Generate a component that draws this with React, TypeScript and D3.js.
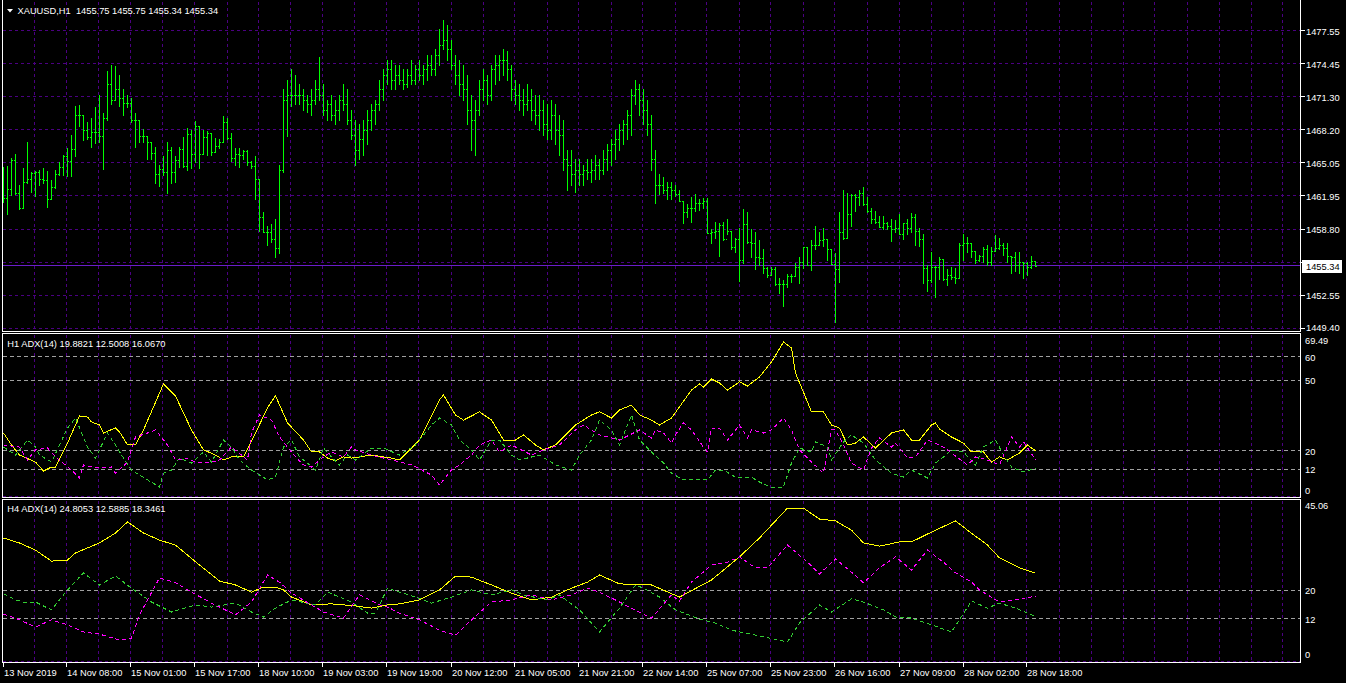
import React from "react";
import * as d3 from "d3";

// ---------- DATA ----------
const barOpen = [1463.0,1461.7,1462.6,1465.3,1462.2,1460.8,1463.3,1463.5,1464.1,1464.2,1463.5,1463.4,1461.6,1462.8,1464.0,1464.7,1465.7,1465.2,1466.4,1469.6,1469.6,1468.2,1467.5,1468.0,1468.0,1467.6,1469.3,1472.5,1471.0,1472.0,1471.2,1470.7,1470.7,1469.1,1469.1,1467.6,1467.6,1467.0,1466.0,1464.0,1464.5,1464.2,1466.3,1464.2,1465.3,1466.4,1464.8,1467.8,1465.9,1468.5,1465.9,1467.5,1467.9,1466.1,1466.7,1467.0,1468.9,1467.4,1465.5,1465.9,1465.8,1466.2,1465.1,1464.8,1463.5,1459.9,1458.5,1458.5,1457.9,1457.0,1464.4,1471.0,1471.5,1471.5,1471.5,1471.5,1471.0,1470.6,1471.0,1472.0,1471.5,1470.1,1470.6,1469.6,1470.1,1471.0,1470.6,1469.1,1467.7,1466.3,1467.3,1468.2,1469.1,1470.1,1470.6,1472.0,1473.4,1473.9,1472.9,1473.4,1472.9,1472.5,1473.4,1472.9,1473.9,1473.4,1473.9,1474.3,1473.9,1475.3,1476.2,1476.7,1475.8,1474.3,1473.4,1472.5,1472.0,1470.1,1469.1,1470.1,1472.0,1472.9,1471.5,1473.9,1474.3,1474.8,1474.8,1473.9,1472.0,1471.5,1471.0,1470.6,1471.0,1470.1,1469.6,1470.1,1468.7,1468.2,1469.6,1468.2,1467.7,1465.4,1464.9,1464.0,1464.4,1464.0,1464.4,1464.2,1464.4,1464.9,1464.4,1465.4,1466.3,1466.8,1467.3,1468.2,1468.7,1469.6,1471.5,1472.0,1471.0,1470.1,1468.7,1465.4,1463.0,1463.0,1462.5,1462.8,1462.5,1462.1,1461.5,1460.4,1460.8,1460.8,1461.3,1461.3,1461.5,1458.4,1458.5,1458.6,1459.2,1457.9,1458.6,1457.1,1457.9,1455.9,1459.3,1457.6,1457.5,1456.2,1456.1,1455.1,1454.5,1455.0,1453.6,1453.6,1453.6,1454.4,1454.4,1455.2,1455.7,1457.1,1455.4,1457.3,1457.3,1457.8,1457.9,1456.9,1455.5,1455.0,1458.5,1458.0,1460.2,1462.0,1461.8,1462.2,1461.2,1460.5,1459.8,1459.5,1459.0,1459.4,1459.1,1458.8,1458.9,1458.3,1459.4,1458.9,1459.9,1458.6,1457.9,1455.1,1454.0,1455.2,1455.2,1456.0,1454.1,1454.5,1454.3,1454.2,1457.3,1457.5,1457.5,1456.7,1455.9,1456.3,1456.9,1455.7,1456.7,1457.0,1457.3,1457.0,1456.3,1456.2,1455.4,1455.7,1455.6,1455.2,1455.75];
const barHigh = [1464.7,1464.8,1465.5,1465.9,1463.0,1464.6,1467.0,1464.2,1464.3,1464.4,1464.6,1464.3,1463.4,1464.4,1465.1,1465.8,1466.5,1467.7,1470.4,1470.5,1469.6,1468.9,1469.3,1470.3,1471.5,1469.8,1473.7,1474.3,1474.2,1473.4,1472.0,1471.5,1471.2,1469.8,1469.1,1468.3,1467.6,1467.0,1466.6,1464.9,1465.7,1467.0,1466.6,1465.7,1466.6,1467.5,1468.4,1468.2,1469.0,1468.5,1468.2,1468.1,1467.9,1467.4,1467.3,1469.5,1469.3,1467.9,1466.5,1466.5,1466.3,1466.3,1465.2,1465.7,1463.5,1460.4,1459.1,1459.3,1459.8,1464.9,1472.0,1472.9,1473.9,1473.4,1472.5,1472.0,1471.5,1472.0,1472.9,1475.1,1472.5,1471.0,1471.5,1471.0,1471.5,1472.5,1472.0,1470.1,1469.1,1468.7,1469.1,1470.1,1470.6,1471.0,1472.9,1473.9,1474.8,1474.8,1474.3,1474.3,1473.9,1473.9,1474.8,1474.3,1474.8,1474.3,1475.3,1475.3,1475.8,1477.7,1478.6,1478.1,1476.7,1475.3,1474.8,1474.3,1473.4,1471.5,1471.0,1472.9,1473.9,1473.4,1474.3,1475.3,1475.3,1475.8,1475.6,1474.3,1472.9,1472.5,1472.0,1472.5,1472.0,1471.5,1471.5,1471.0,1470.6,1471.0,1470.6,1469.6,1469.1,1466.3,1466.3,1465.4,1465.4,1464.9,1465.4,1465.4,1465.8,1465.4,1466.3,1466.8,1467.3,1468.2,1468.7,1469.1,1470.1,1472.0,1472.9,1472.5,1472.0,1471.0,1469.6,1466.3,1464.0,1463.7,1463.3,1463.3,1463.0,1462.5,1461.5,1461.2,1461.8,1462.1,1461.6,1461.7,1461.7,1458.8,1459.5,1459.4,1459.5,1459.8,1458.6,1458.0,1458.9,1460.7,1460.4,1458.8,1458.5,1457.8,1456.9,1455.2,1455.2,1455.2,1454.2,1454.0,1454.6,1454.6,1455.6,1456.2,1457.1,1457.1,1457.8,1459.1,1458.5,1458.9,1457.9,1456.9,1456.5,1460.4,1462.5,1462.2,1462.1,1462.1,1462.5,1462.8,1461.8,1460.8,1460.5,1460.0,1460.0,1459.5,1459.8,1459.7,1460.2,1459.4,1459.8,1460.3,1460.2,1458.9,1458.3,1455.4,1456.6,1455.3,1456.2,1456.0,1455.0,1455.2,1455.1,1457.5,1458.3,1458.1,1457.5,1456.7,1456.4,1457.1,1457.3,1457.1,1458.2,1458.0,1457.5,1457.5,1456.3,1456.6,1456.6,1455.7,1455.7,1456.3,1455.75];
const barLow = [1461.4,1460.2,1462.0,1462.1,1460.7,1460.8,1463.2,1462.3,1461.9,1463.0,1463.2,1460.9,1461.6,1462.7,1463.9,1463.9,1463.8,1463.8,1465.7,1468.5,1467.2,1467.3,1466.6,1466.9,1467.0,1464.5,1469.1,1470.6,1471.0,1470.4,1469.6,1470.3,1468.9,1466.6,1467.0,1467.0,1465.4,1465.4,1463.2,1462.9,1463.9,1462.2,1463.2,1463.3,1464.7,1464.7,1464.4,1464.6,1465.1,1464.6,1465.9,1465.8,1465.8,1466.1,1466.5,1467.0,1467.3,1465.2,1464.9,1464.7,1465.4,1464.9,1464.6,1461.6,1458.6,1458.5,1457.3,1457.6,1456.2,1456.5,1464.2,1467.6,1470.4,1470.6,1470.6,1470.1,1469.9,1469.6,1470.6,1471.0,1469.6,1469.1,1469.1,1468.7,1469.1,1470.1,1468.7,1467.3,1464.9,1465.4,1465.8,1466.8,1468.2,1468.7,1470.1,1471.0,1472.5,1472.0,1472.0,1472.5,1472.0,1472.2,1472.5,1472.5,1472.9,1472.5,1472.9,1473.4,1473.4,1474.3,1475.8,1474.8,1473.9,1472.5,1471.5,1471.0,1468.7,1466.3,1465.8,1469.6,1471.0,1470.6,1471.0,1472.5,1472.9,1473.4,1472.9,1471.0,1470.6,1470.1,1469.6,1470.1,1469.1,1468.7,1468.2,1467.7,1467.3,1467.3,1466.8,1465.8,1464.4,1462.5,1463.0,1462.3,1463.0,1463.0,1463.5,1463.3,1463.5,1463.5,1464.0,1464.4,1464.9,1465.4,1466.3,1466.8,1467.3,1467.7,1470.6,1469.6,1468.7,1467.7,1464.4,1461.3,1462.1,1462.2,1461.6,1461.6,1461.9,1461.5,1459.4,1459.9,1459.5,1460.5,1460.6,1460.8,1458.4,1457.5,1458.0,1456.3,1457.8,1458.3,1456.9,1456.6,1453.9,1455.6,1457.5,1456.2,1455.0,1455.4,1454.7,1454.3,1454.5,1453.5,1452.8,1451.5,1453.3,1453.8,1454.4,1453.7,1455.1,1455.4,1454.9,1456.9,1457.3,1457.2,1455.9,1455.5,1450.0,1453.8,1457.9,1458.0,1459.1,1460.5,1461.1,1461.1,1460.4,1459.4,1459.4,1459.0,1458.8,1458.8,1457.7,1458.5,1458.3,1457.9,1458.3,1458.5,1457.3,1457.2,1453.7,1453.0,1453.8,1452.4,1454.1,1454.0,1453.5,1454.1,1453.7,1454.2,1455.9,1456.6,1456.2,1455.6,1455.8,1455.7,1455.4,1455.4,1456.7,1456.9,1456.4,1455.7,1454.7,1454.8,1454.7,1454.2,1454.5,1455.1,1455.34];
const barClose = [1461.7,1462.6,1465.3,1462.2,1460.8,1463.3,1463.5,1464.1,1464.2,1463.5,1463.4,1461.6,1462.8,1464.0,1464.7,1465.7,1465.2,1466.4,1469.6,1469.6,1468.2,1467.5,1468.0,1468.0,1467.6,1469.3,1472.5,1471.0,1472.0,1471.2,1470.7,1470.7,1469.1,1469.1,1467.6,1467.6,1467.0,1466.0,1464.0,1464.5,1464.2,1466.3,1464.2,1465.3,1466.4,1464.8,1467.8,1465.9,1468.5,1465.9,1467.5,1467.9,1466.1,1466.7,1467.0,1468.9,1467.4,1465.5,1465.9,1465.8,1466.2,1465.1,1464.8,1463.5,1459.9,1458.5,1458.5,1457.9,1457.0,1464.4,1471.0,1471.5,1471.5,1471.5,1471.5,1471.0,1470.6,1471.0,1472.0,1471.5,1470.1,1470.6,1469.6,1470.1,1471.0,1470.6,1469.1,1467.7,1466.3,1467.3,1468.2,1469.1,1470.1,1470.6,1472.0,1473.4,1473.9,1472.9,1473.4,1472.9,1472.5,1473.4,1472.9,1473.9,1473.4,1473.9,1474.3,1473.9,1475.3,1476.2,1476.7,1475.8,1474.3,1473.4,1472.5,1472.0,1470.1,1469.1,1470.1,1472.0,1472.9,1471.5,1473.9,1474.3,1474.8,1474.8,1473.9,1472.0,1471.5,1471.0,1470.6,1471.0,1470.1,1469.6,1470.1,1468.7,1468.2,1469.6,1468.2,1467.7,1465.4,1464.9,1464.0,1464.4,1464.0,1464.4,1464.2,1464.4,1464.9,1464.4,1465.4,1466.3,1466.8,1467.3,1468.2,1468.7,1469.6,1471.5,1472.0,1471.0,1470.1,1468.7,1465.4,1463.0,1463.0,1462.5,1462.8,1462.5,1462.1,1461.5,1460.4,1460.8,1460.8,1461.3,1461.3,1461.5,1458.4,1458.5,1458.6,1459.2,1457.9,1458.6,1457.1,1457.9,1455.9,1459.3,1457.6,1457.5,1456.2,1456.1,1455.1,1454.5,1455.0,1453.6,1453.6,1453.6,1454.4,1454.4,1455.2,1455.7,1457.1,1455.4,1457.3,1457.3,1457.8,1457.9,1456.9,1455.5,1455.0,1458.5,1458.0,1460.2,1462.0,1461.8,1462.2,1461.2,1460.5,1459.8,1459.5,1459.0,1459.4,1459.1,1458.8,1458.9,1458.3,1459.4,1458.9,1459.9,1458.6,1457.9,1455.1,1454.0,1455.2,1455.2,1456.0,1454.1,1454.5,1454.3,1454.2,1457.3,1457.5,1457.5,1456.7,1455.9,1456.3,1456.9,1455.7,1456.7,1457.0,1457.3,1457.0,1456.3,1456.2,1455.4,1455.7,1455.6,1455.2,1455.8,1455.34];

const priceTicks = [1477.55, 1474.45, 1471.30, 1468.20, 1465.05, 1461.95, 1458.80, 1455.65, 1452.55, 1449.40];
const lastPrice = 1455.34;
const timeLabels = ["13 Nov 2019","14 Nov 08:00","15 Nov 01:00","15 Nov 17:00","18 Nov 10:00","19 Nov 03:00","19 Nov 19:00","20 Nov 12:00","21 Nov 05:00","21 Nov 21:00","22 Nov 14:00","25 Nov 07:00","25 Nov 23:00","26 Nov 16:00","27 Nov 09:00","28 Nov 02:00","28 Nov 18:00"];
const h1Levels = [60, 50, 20, 12];
const h4Levels = [20, 12];
const h1Max = 69.49;
const h4Max = 45.06;

// [bar index, value]
const h1Adx: [number, number][] = [[0,27.5],[2,22.4],[4,18.1],[8,15.1],[10,11.3],[12,13.0],[13,13.0],[16,23.2],[19,34.8],[21,34.3],[22,32.2],[24,30.9],[25,27.5],[28,29.7],[29,28.0],[31,22.4],[33,22.4],[35,28.8],[40,48.4],[43,43.3],[47,28.8],[50,20.3],[53,18.1],[55,16.0],[57,17.3],[60,17.3],[63,27.5],[66,38.2],[68,43.3],[71,31.8],[75,24.5],[77,19.4],[79,19.4],[81,16.8],[83,15.6],[85,17.3],[87,16.8],[92,18.1],[97,16.8],[99,16.0],[104,24.5],[109,41.6],[110,43.7],[113,35.2],[115,33.0],[119,36.5],[122,33.0],[125,24.5],[128,24.5],[130,26.7],[133,22.4],[135,20.3],[138,22.4],[143,30.9],[147,35.2],[149,36.5],[152,33.9],[154,37.3],[157,39.4],[159,35.2],[162,33.0],[164,30.9],[167,33.9],[172,45.8],[174,48.4],[175,47.1],[177,50.5],[179,48.8],[181,45.8],[184,49.3],[186,47.5],[189,51.4],[192,57.8],[195,66.3],[197,63.8],[198,53.1],[201,40.7],[202,36.5],[205,36.5],[207,30.9],[209,29.6],[211,22.4],[213,23.2],[215,25.8],[218,21.1],[222,27.5],[225,28.8],[227,24.5],[229,24.5],[232,30.9],[233,31.8],[234,29.2],[237,25.8],[240,23.2],[242,19.4],[245,19.4],[247,15.1],[249,17.3],[251,16.0],[254,19.0],[256,22.4],[258,19.9]];
const h1PlusDi: [number, number][] = [[0,21.5],[3,18.1],[6,24.5],[8,21.5],[9,18.1],[12,15.1],[16,29.6],[18,33.9],[21,21.5],[23,16.8],[26,27.5],[28,22.4],[30,16.8],[32,11.7],[36,7.5],[39,4.5],[40,10.4],[42,11.7],[44,16.8],[47,14.7],[50,19.4],[52,15.1],[55,24.5],[57,21.5],[59,16.0],[62,11.7],[66,7.5],[68,8.7],[70,21.5],[72,24.5],[74,17.3],[76,14.7],[78,11.7],[80,21.1],[82,17.3],[84,13.9],[86,18.1],[88,16.0],[92,21.1],[95,21.1],[99,18.1],[103,22.4],[107,30.9],[109,33.9],[112,30.9],[114,24.5],[117,20.3],[119,16.0],[122,24.5],[124,24.5],[127,18.1],[129,16.0],[134,18.1],[138,13.9],[142,11.7],[144,18.1],[147,24.5],[149,33.0],[152,28.8],[154,22.4],[157,35.2],[159,24.5],[162,19.4],[165,14.7],[167,10.4],[170,7.5],[173,7.5],[176,7.5],[178,11.7],[180,11.7],[183,8.7],[187,8.7],[189,6.6],[192,4.1],[195,4.5],[197,14.7],[199,21.1],[202,19.4],[203,23.7],[206,21.5],[207,16.0],[210,23.7],[212,26.7],[215,23.2],[218,16.0],[222,10.4],[225,8.7],[227,11.7],[231,8.3],[233,14.7],[235,17.3],[237,20.3],[240,19.4],[243,13.9],[245,21.5],[248,24.5],[250,18.1],[252,13.0],[255,10.9],[258,12.5]];
const h1MinusDi: [number, number][] = [[0,22.4],[4,21.5],[6,16.0],[8,20.3],[11,21.1],[13,17.3],[17,11.7],[19,8.3],[20,13.9],[23,12.6],[27,13.0],[28,10.4],[31,15.1],[33,25.8],[36,27.5],[38,28.8],[41,22.4],[43,16.0],[46,16.8],[48,15.1],[52,15.1],[54,16.0],[57,21.5],[61,16.0],[62,27.5],[64,35.2],[67,33.0],[69,25.8],[71,21.5],[73,17.3],[75,13.9],[77,13.0],[80,17.3],[82,19.4],[85,17.3],[87,21.5],[88,20.3],[92,18.1],[97,16.0],[102,13.9],[107,9.6],[109,5.3],[112,11.7],[114,13.9],[117,18.1],[119,22.4],[122,24.5],[124,19.4],[127,22.4],[132,18.1],[135,20.3],[139,22.4],[143,28.8],[145,30.9],[149,26.7],[154,24.5],[159,28.8],[162,25.4],[163,28.8],[165,27.5],[167,23.2],[168,26.7],[170,31.8],[172,28.8],[175,21.5],[176,19.4],[177,29.6],[179,29.6],[181,24.5],[184,30.9],[186,25.4],[187,28.8],[190,27.5],[192,28.8],[195,33.9],[197,28.8],[199,20.3],[202,15.1],[205,10.4],[207,28.8],[208,28.8],[210,22.4],[212,14.7],[215,11.7],[217,21.1],[219,25.4],[222,21.5],[223,23.2],[226,16.8],[228,17.3],[231,24.5],[233,23.2],[235,21.5],[237,19.0],[241,13.9],[243,17.3],[246,16.0],[249,13.9],[252,25.8],[254,21.5],[255,23.7],[258,16.1]];

const h4Adx: [number, number][] = [[0,34.7],[4,33.3],[8,31.3],[12,28.2],[16,28.5],[18,30.5],[24,33.3],[28,36.1],[31,39.2],[35,36.1],[39,34.1],[43,32.7],[46,29.9],[49,27.1],[54,22.6],[58,21.5],[62,19.5],[65,20.9],[68,20.9],[70,20.1],[72,18.1],[77,15.9],[82,16.2],[88,15.6],[92,15.0],[96,15.9],[99,16.2],[104,17.3],[109,20.1],[113,24.0],[117,23.7],[122,21.5],[127,19.2],[132,17.3],[137,18.1],[142,20.6],[146,22.3],[149,24.3],[154,21.8],[162,21.5],[169,18.1],[177,22.9],[184,29.4],[189,34.7],[196,43.1],[200,43.1],[204,40.0],[208,39.5],[212,36.9],[215,33.3],[219,32.4],[224,33.6],[227,33.6],[231,35.8],[238,39.5],[241,36.9],[246,32.7],[249,29.1],[254,26.3],[258,24.8]];
const h4PlusDi: [number, number][] = [[0,19.0],[3,17.3],[6,16.4],[8,16.7],[12,14.5],[16,20.1],[20,24.9],[24,21.5],[28,24.0],[32,20.6],[37,16.7],[42,13.9],[48,15.9],[52,15.3],[58,16.4],[62,13.9],[65,12.5],[68,15.0],[72,17.3],[78,15.9],[81,19.5],[87,16.7],[91,13.6],[93,13.6],[96,20.6],[99,19.5],[103,18.1],[107,16.4],[112,18.1],[117,20.1],[122,18.7],[127,20.1],[130,18.7],[136,17.3],[139,18.7],[144,14.5],[149,8.3],[154,15.0],[158,21.5],[160,20.6],[164,18.1],[168,14.5],[174,11.9],[178,10.8],[182,8.8],[188,7.4],[194,6.0],[196,5.5],[199,10.8],[204,15.9],[207,13.9],[212,17.6],[215,16.7],[220,14.5],[223,12.5],[227,12.2],[232,10.3],[237,8.3],[242,17.0],[246,15.0],[249,16.4],[253,15.0],[258,12.6]];
const h4MinusDi: [number, number][] = [[0,13.3],[3,12.2],[8,9.7],[12,11.7],[16,10.3],[20,8.3],[24,7.7],[29,6.0],[32,6.6],[34,13.1],[39,23.5],[43,22.1],[47,19.5],[52,16.4],[58,13.1],[62,16.7],[66,24.3],[69,22.3],[72,19.2],[77,15.9],[80,13.9],[85,12.2],[89,18.7],[94,15.9],[96,15.3],[99,13.6],[104,11.7],[109,8.8],[113,7.4],[117,11.7],[122,16.7],[127,17.3],[132,18.7],[137,17.3],[142,18.7],[146,20.6],[149,19.5],[154,16.7],[160,13.3],[162,12.2],[167,18.7],[169,17.0],[172,22.3],[177,27.1],[181,27.9],[184,29.4],[188,26.3],[191,26.3],[196,32.7],[201,27.9],[204,24.6],[208,28.8],[212,25.1],[215,22.1],[219,26.3],[223,29.4],[227,25.7],[231,31.3],[235,27.9],[238,24.9],[242,22.3],[244,20.1],[249,16.7],[254,17.6],[258,18.3]];

const mainTitle = "XAUUSD,H1  1455.75 1455.75 1455.34 1455.34";
const h1Title = "H1 ADX(14) 19.8821 12.5008 16.0670";
const h4Title = "H4 ADX(14) 24.8053 12.5885 18.3461";

// ---------- STYLE ----------
const GRID = "#4b0082";
const PRICE_LINE = "#6a1ec8";
const BAR = "#00ff00";
const YEL = "#ffff00";
const MAG = "#ff00ff";
const GRN = "#32cd32";
const LEVEL = "#a0a0a0";
const FONT = "'Liberation Sans', Arial, sans-serif";
const FS = 9.3;

export default function App() {
  const W = 1346, H = 683;
  const L = 2.5, R = 1300.5;
  const mainTop = 0.5, mainBot = 331.5;
  const h1Top = 333.5, h1Bot = 497.5;
  const h4Top = 499.5, h4Bot = 662.5;

  const xBar = d3.scaleLinear().domain([0, 324]).range([3, 1299]);
  const yMain = d3.scaleLinear().domain([1449.40, 1477.55]).range([328.6, 30.7]);
  const yH1 = d3.scaleLinear().domain([0, h1Max]).range([497.5, 334.5]);
  const yH4 = d3.scaleLinear().domain([0, h4Max]).range([661.5, 501.1]);
  const half = (v: number) => Math.floor(v) + 0.5;

  const gridBars = d3.range(8, 325, 8);
  const labelBars = timeLabels.map((_, k) => k * 16);

  const lineH1 = d3.line<[number, number]>().x(d => Math.round(xBar(d[0])) + 0.5).y(d => yH1(d[1]));
  const lineH4 = d3.line<[number, number]>().x(d => Math.round(xBar(d[0])) + 0.5).y(d => yH4(d[1]));

  const vGrid = (top: number, bot: number, key: string) =>
    gridBars.map(b => (
      <line key={key + b} x1={half(xBar(b))} x2={half(xBar(b))} y1={top} y2={bot}
        stroke={GRID} strokeDasharray="3,3" />
    ));

  const textProps = { fill: "#ffffff", fontFamily: FONT, fontSize: FS, style: { whiteSpace: "pre" as const } };
  const lastY = Math.round(yMain(lastPrice));

  return (
    <svg width={W} height={H} style={{ position: "absolute", left: 0, top: 0, background: "#000" }}
      shapeRendering="crispEdges">
      <defs>
        <clipPath id="cMain"><rect x={3} y={1} width={1297} height={330} /></clipPath>
        <clipPath id="cH1"><rect x={3} y={334} width={1297} height={163} /></clipPath>
        <clipPath id="cH4"><rect x={3} y={500} width={1297} height={162} /></clipPath>
        <clipPath id="cLbl"><rect x={1301} y={0} width={45} height={lastY - 6} /></clipPath>
      </defs>
      <rect x={0} y={0} width={W} height={H} fill="#000" />

      {/* ===== main pane ===== */}
      {vGrid(mainTop + 1, mainBot, "gm")}
      {priceTicks.map(p => (
        <line key={"hg" + p} x1={L} x2={R} y1={half(yMain(p))} y2={half(yMain(p))}
          stroke={GRID} strokeDasharray="3,3" />
      ))}
      <line x1={L} x2={R} y1={half(yMain(lastPrice))} y2={half(yMain(lastPrice))} stroke={PRICE_LINE} />
      <g clipPath="url(#cMain)">
        {barHigh.map((h, i) => {
          const xb = Math.round(xBar(i));
          const yh = Math.round(yMain(h));
          const yl = Math.round(yMain(barLow[i]));
          return (
            <g key={"b" + i}>
              <rect x={xb} y={yh} width={1} height={Math.max(1, yl - yh + 1)} fill={BAR} />
              <rect x={xb - 1} y={Math.round(yMain(barOpen[i]))} width={1} height={1} fill={BAR} />
              <rect x={xb + 1} y={Math.round(yMain(barClose[i]))} width={1} height={1} fill={BAR} />
            </g>
          );
        })}
      </g>
      {priceTicks.map(p => {
        const hidden = Math.abs(yMain(p) - yMain(lastPrice)) < 8;
        return (
          <g key={"pl" + p}>
            <line x1={R} x2={R + 4} y1={half(yMain(p))} y2={half(yMain(p))} stroke="#fff" />
            <text x={1306} y={Math.min(yMain(p) + 4, 331)} {...textProps}
              clipPath={hidden ? "url(#cLbl)" : undefined}>{p.toFixed(2)}</text>
          </g>
        );
      })}
      <rect x={1302} y={lastY - 6} width={40} height={13} fill="#fff" />
      <text x={1306} y={lastY + 4} {...textProps} fill="#000">{lastPrice.toFixed(2)}</text>
      <polygon points="7,9 13,9 10,12.5" fill="#fff" shapeRendering="auto" />
      <text x={17.5} y={14.3} {...textProps}>{mainTitle}</text>
      <line x1={L} x2={L} y1={0} y2={mainBot} stroke="#fff" />
      <line x1={R} x2={R} y1={0} y2={mainBot} stroke="#fff" />
      <line x1={L} x2={R} y1={mainBot} y2={mainBot} stroke="#fff" />

      {/* ===== H1 ADX pane ===== */}
      {vGrid(h1Top + 1, h1Bot, "g1")}
      <line x1={L} x2={R} y1={496.5} y2={496.5} stroke={GRID} strokeDasharray="3,3" />
      {h1Levels.map(v => (
        <line key={"l1" + v} x1={L} x2={R} y1={half(yH1(v))} y2={half(yH1(v))} stroke={LEVEL} strokeDasharray="4,3" />
      ))}
      <g clipPath="url(#cH1)" fill="none">
        <path d={lineH1(h1Adx) || ""} stroke={YEL} />
        <path d={lineH1(h1PlusDi) || ""} stroke={GRN} strokeDasharray="4,3" />
        <path d={lineH1(h1MinusDi) || ""} stroke={MAG} strokeDasharray="4,3" />
      </g>
      <rect x={L} y={h1Top} width={R - L} height={h1Bot - h1Top} fill="none" stroke="#fff" />
      <text x={7.3} y={346.5} {...textProps}>{h1Title}</text>
      <text x={1305} y={344.3} {...textProps}>{h1Max.toFixed(2)}</text>
      {h1Levels.map(v => (
        <text key={"t1" + v} x={1305} y={yH1(v) + 4} {...textProps}>{v}</text>
      ))}
      <text x={1305} y={494} {...textProps}>0</text>

      {/* ===== H4 ADX pane ===== */}
      {vGrid(h4Top + 1, h4Bot, "g4")}
      <line x1={L} x2={R} y1={661.5} y2={661.5} stroke={GRID} strokeDasharray="3,3" />
      {h4Levels.map(v => (
        <line key={"l4" + v} x1={L} x2={R} y1={half(yH4(v))} y2={half(yH4(v))} stroke={LEVEL} strokeDasharray="4,3" />
      ))}
      <g clipPath="url(#cH4)" fill="none">
        <path d={lineH4(h4Adx) || ""} stroke={YEL} />
        <path d={lineH4(h4PlusDi) || ""} stroke={GRN} strokeDasharray="4,3" />
        <path d={lineH4(h4MinusDi) || ""} stroke={MAG} strokeDasharray="4,3" />
      </g>
      <rect x={L} y={h4Top} width={R - L} height={h4Bot - h4Top} fill="none" stroke="#fff" />
      <text x={7.3} y={511.5} {...textProps}>{h4Title}</text>
      <text x={1305} y={509.3} {...textProps}>{h4Max.toFixed(2)}</text>
      {h4Levels.map(v => (
        <text key={"t4" + v} x={1305} y={yH4(v) + 4} {...textProps}>{v}</text>
      ))}
      <text x={1305} y={658.3} {...textProps}>0</text>

      {/* ===== time axis ===== */}
      {labelBars.map((b, k) => {
        const x = half(xBar(b));
        return (
          <g key={"ta" + k}>
            <line x1={x} x2={x} y1={h4Bot} y2={h4Bot + 4} stroke="#fff" />
            <text x={x + 0.5} y={676} {...textProps}>{timeLabels[k]}</text>
          </g>
        );
      })}
    </svg>
  );
}
